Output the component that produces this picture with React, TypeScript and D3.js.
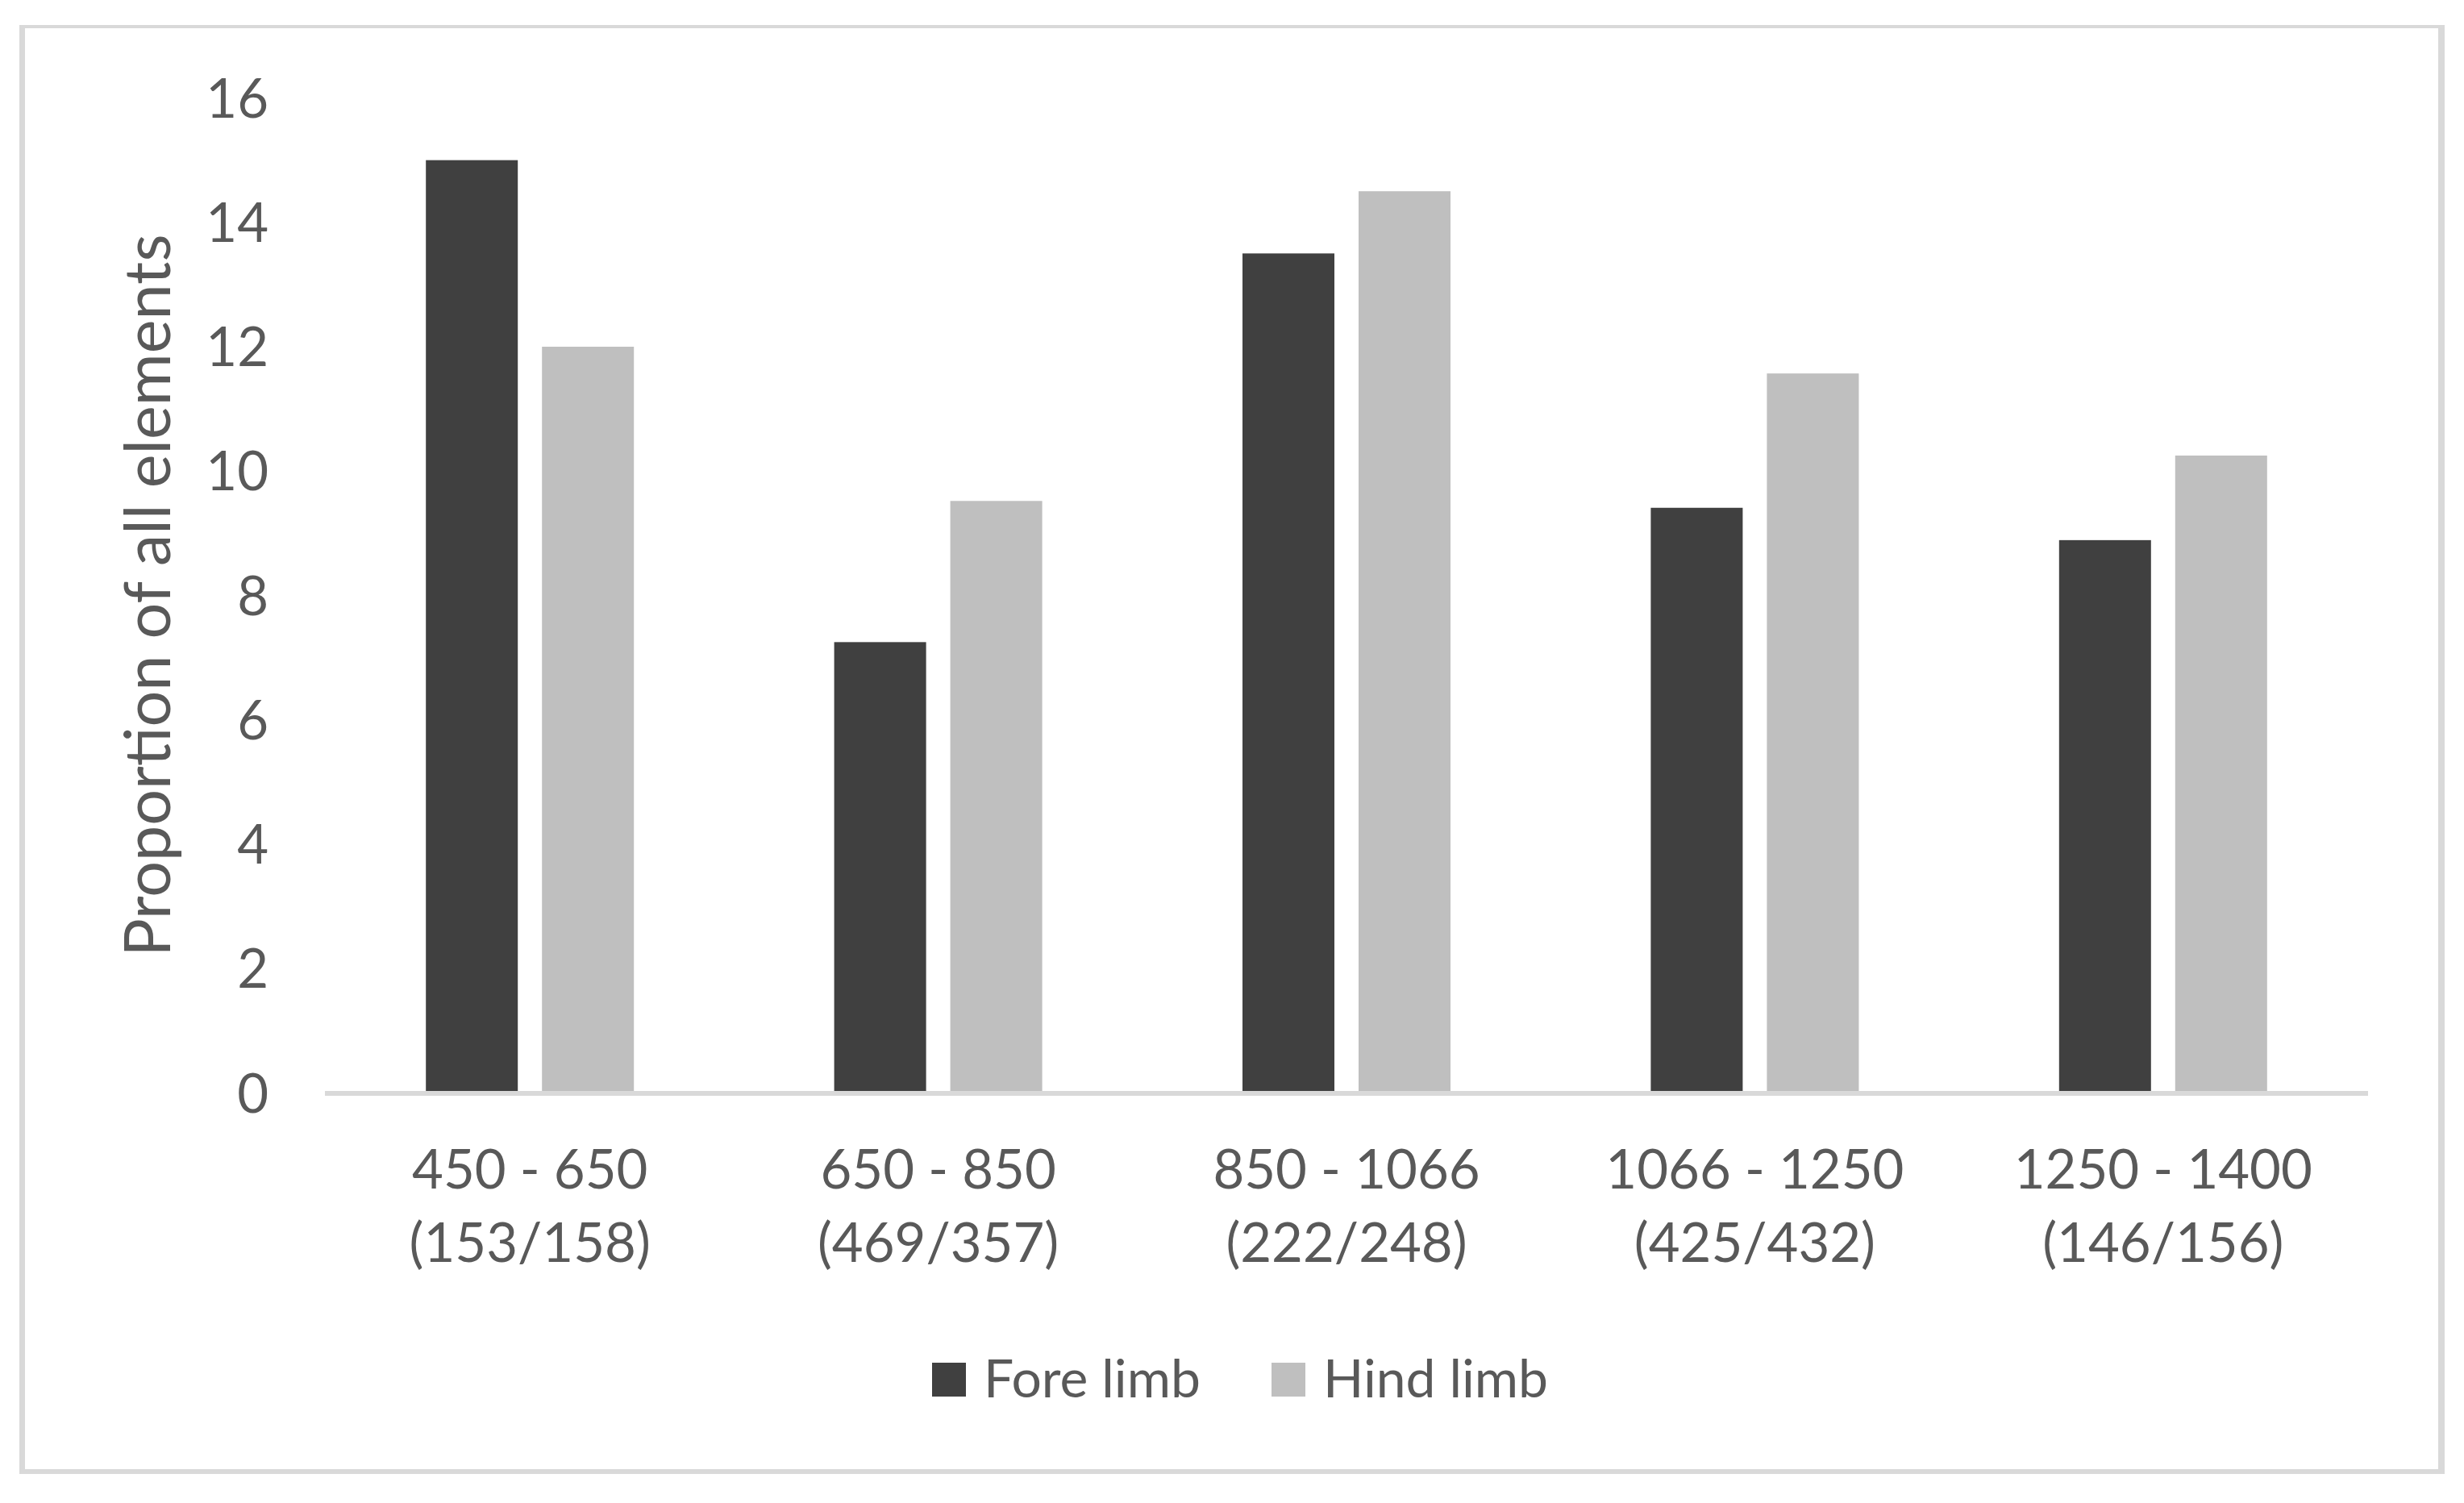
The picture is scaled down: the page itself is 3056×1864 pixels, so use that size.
import React, { useEffect } from "react";
import * as d3 from "d3";

const categories = ["450 - 650", "650 - 850", "850 - 1066", "1066 - 1250", "1250 - 1400"];
const sampleSizes = ["(153/158)", "(469/357)", "(222/248)", "(425/432)", "(146/156)"];
const seriesNames = ["Fore limb", "Hind limb"];
const foreLimb = [15.0, 7.25, 13.5, 9.41, 8.89];
const hindLimb = [12.0, 9.52, 14.5, 11.57, 10.25];
const yTicks = [0, 2, 4, 6, 8, 10, 12, 14, 16];
const yTitle = "Proportion of all elements";

const W = 3056;
const H = 1864;
const COLORS = ["#404040", "#bfbfbf"];
const TEXT = "#595959";
const GRID = "#d9d9d9";
const FONT = "Lato, 'Open Sans', sans-serif";

export default function App() {
  useEffect(() => {
    document.body.style.margin = "0";
  }, []);

  const plotLeft = 404;
  const plotRight = 2936;
  const x0 = d3.scaleBand<string>().domain(categories).range([plotLeft, plotRight]).paddingInner(0).paddingOuter(0);
  const groupW = 258;
  const x1 = d3
    .scaleBand<string>()
    .domain(seriesNames)
    .range([0, groupW])
    .paddingInner(30 / 144)
    .paddingOuter(0);
  const y = d3.scaleLinear().domain([0, 16]).range([1355.5, 121.5]);
  const series = [foreLimb, hindLimb];

  const groupOffset = (x0.bandwidth() - groupW) / 2;

  return (
    <svg
      width={W}
      height={H}
      viewBox={`0 0 ${W} ${H}`}
      style={{ position: "absolute", left: 0, top: 0, background: "#fff" }}
    >
      <rect x={0} y={0} width={W} height={H} fill="#fff" />
      {/* outer border */}
      <rect x={24} y={31} width={7} height={1797} fill={GRID} />
      <rect x={3024} y={31} width={8} height={1797} fill={GRID} />
      <rect x={24} y={31} width={3008} height={4} fill={GRID} />
      <rect x={24} y={1822} width={3008} height={6} fill={GRID} />

      {/* y tick labels */}
      {yTicks.map((t) => (
        <text
          key={t}
          x={333}
          y={y(t)}
          dy="0.36em"
          textAnchor="end"
          fontFamily={FONT}
          fontSize={67}
          fill={TEXT}
        >
          {t}
        </text>
      ))}

      {/* y axis title */}
      <text
        transform={`translate(211, ${(y(0) + y(16)) / 2}) rotate(-90)`}
        textAnchor="middle"
        fontFamily={FONT}
        fontSize={79}
        fill={TEXT}
      >
        {yTitle}
      </text>

      {/* bars */}
      {categories.map((c, i) => (
        <g key={c} transform={`translate(${(x0(c) as number) + groupOffset},0)`}>
          {seriesNames.map((s, j) => (
            <rect
              key={s}
              x={x1(s)}
              y={y(series[j][i])}
              width={x1.bandwidth()}
              height={y(0) - y(series[j][i])}
              fill={COLORS[j]}
            />
          ))}
        </g>
      ))}

      {/* x axis line */}
      <line x1={403} x2={2937} y1={1356} y2={1356} stroke={GRID} strokeWidth={6} />

      {/* category labels */}
      {categories.map((c, i) => {
        const cx = (x0(c) as number) + x0.bandwidth() / 2;
        return (
          <g key={c}>
            <text x={cx} y={1474} textAnchor="middle" fontFamily={FONT} fontSize={67} fill={TEXT}>
              {c}
            </text>
            <text x={cx} y={1565} textAnchor="middle" fontFamily={FONT} fontSize={67} fill={TEXT}>
              {sampleSizes[i]}
            </text>
          </g>
        );
      })}

      {/* legend */}
      {seriesNames.map((s, j) => {
        const lx = [1156, 1577][j];
        return (
          <g key={s}>
            <rect x={lx} y={1690} width={42} height={42} fill={COLORS[j]} />
            <text x={lx + 64} y={1733} fontFamily={FONT} fontSize={66} fill={TEXT}>
              {s}
            </text>
          </g>
        );
      })}
    </svg>
  );
}
